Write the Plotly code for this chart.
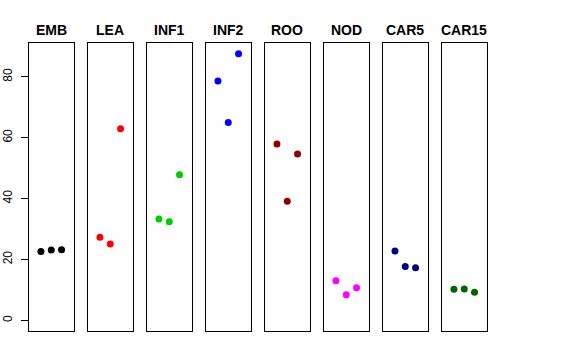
import plotly.graph_objects as go

categories = ["EMB", "LEA", "INF1", "INF2", "ROO", "NOD", "CAR5", "CAR15"]
replicate = [1, 2, 3]
emb = [22.6, 23.1, 23.2]
lea = [27.3, 25.1, 62.9]
inf1 = [33.3, 32.4, 47.8]
inf2 = [78.6, 65.0, 87.6]
roo = [57.9, 39.1, 54.6]
nod = [13.0, 8.4, 10.7]
car5 = [22.8, 17.7, 17.3]
car15 = [10.2, 10.3, 9.2]
series = [emb, lea, inf1, inf2, roo, nod, car5, car15]
colors = ["#000000", "#FF0000", "#00CD00", "#0000FF", "#8B0000", "#FF00FF", "#000080", "#006400"]
y_ticks = [0, 20, 40, 60, 80]

W, H = 576, 360
left0, pw, step = 29.0, 44.5, 59.0
top, bottom = 43.3, 331.0

fig = go.Figure()
layout = dict(
    width=W, height=H, margin=dict(l=0, r=0, t=0, b=0, autoexpand=False),
    paper_bgcolor="white", plot_bgcolor="white", showlegend=False,
    font=dict(family="Liberation Sans, Arial, sans-serif", color="black"),
)
annotations = []
for i, (cat, vals, col) in enumerate(zip(categories, series, colors)):
    n = i + 1
    xa = "x" if n == 1 else f"x{n}"
    ya = "y" if n == 1 else f"y{n}"
    fig.add_trace(go.Scatter(x=replicate, y=vals, mode="markers", xaxis=xa, yaxis=ya,
                             marker=dict(color=col, size=7, line=dict(width=0))))
    x0 = left0 + i * step
    x1 = x0 + pw
    layout[f"xaxis{'' if n == 1 else n}"] = dict(
        domain=[x0 / W, x1 / W], range=[-0.16, 4.16], showticklabels=False, ticks="",
        showgrid=False, zeroline=False, showline=True, mirror=True, linecolor="black",
        linewidth=1, anchor=ya, fixedrange=True, automargin=False)
    ydict = dict(
        domain=[1 - bottom / H, 1 - top / H], range=[-3.5, 91.0], showgrid=False,
        zeroline=False, showline=True, mirror=True, linecolor="black", linewidth=1,
        anchor=xa, fixedrange=True, automargin=False)
    if n == 1:
        ydict.update(tickvals=y_ticks, ticks="outside", ticklen=7, tickcolor="black",
                     tickangle=-90, tickfont=dict(size=12, color="black"),
                     showticklabels=True, ticklabelstandoff=4)
    else:
        ydict.update(showticklabels=False, ticks="")
    layout[f"yaxis{'' if n == 1 else n}"] = ydict
    annotations.append(dict(text=f"<b>{cat}</b>", x=(x0 + x1) / 2 / W, y=1 - 30 / H,
                            xref="paper", yref="paper", showarrow=False,
                            xanchor="center", yanchor="middle",
                            font=dict(size=14, color="black")))
layout["annotations"] = annotations
fig.update_layout(**layout)
fig.write_html("out.html", config={"displayModeBar": False, "staticPlot": True},
               post_script="document.body.style.margin='0px';document.body.style.padding='0px';")
